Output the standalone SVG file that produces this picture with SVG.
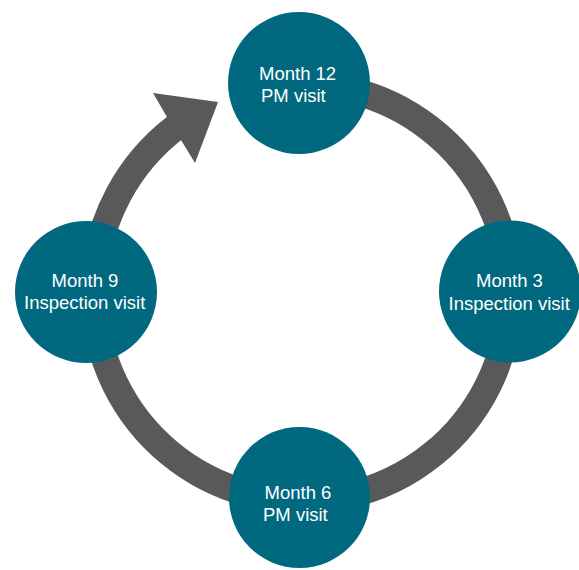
<svg xmlns="http://www.w3.org/2000/svg" width="579" height="570" viewBox="0 0 579 570">
<style>
.node{fill:#00687f;}
.lbl{fill:#ffffff;font-family:"Liberation Sans",Arial,sans-serif;font-size:18.5px;}
.ring{fill:none;stroke:#58595b;stroke-width:27;stroke-linecap:butt;}
.head{fill:#58595b;}
</style>
<rect width="579" height="570" fill="#ffffff"/>
<g id="connectors">
<path class="ring" d="M 349.8,90.1 A 208 208 0 1 1 176,127"/>
<polygon class="head" points="153,93 218,102 195,163 181,140 167,117"/>
</g>
<g id="node-month12">
<circle class="node" cx="299" cy="83" r="71"/>
<text class="lbl" x="259" y="80">Month 12</text>
<text class="lbl" x="261" y="102">PM visit</text>
</g>
<g id="node-month3">
<circle class="node" cx="510" cy="291.5" r="71"/>
<text class="lbl" x="476" y="287">Month 3</text>
<text class="lbl" x="448.5" y="310">Inspection visit</text>
</g>
<g id="node-month6">
<circle class="node" cx="299.5" cy="497.5" r="70.5"/>
<text class="lbl" x="264.5" y="499">Month 6</text>
<text class="lbl" x="263" y="521">PM visit</text>
</g>
<g id="node-month9">
<circle class="node" cx="86" cy="292" r="71"/>
<text class="lbl" x="51.5" y="287">Month 9</text>
<text class="lbl" x="24" y="309">Inspection visit</text>
</g>
</svg>
